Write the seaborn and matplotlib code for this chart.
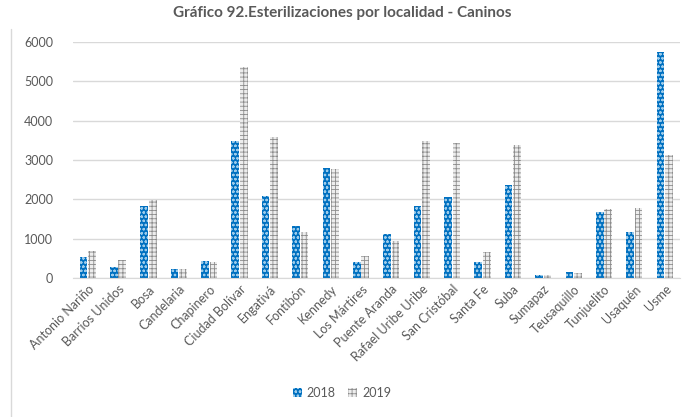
import matplotlib
matplotlib.use("Agg")
import matplotlib.pyplot as plt
from matplotlib.lines import Line2D
import pandas as pd
import seaborn as sns

localidades = [
    "Antonio Nariño", "Barrios Unidos", "Bosa", "Candelaria", "Chapinero",
    "Ciudad Bolívar", "Engativá", "Fontibón", "Kennedy", "Los Mártires",
    "Puente Aranda", "Rafael Uribe Uribe", "San Cristóbal", "Santa Fe", "Suba",
    "Sumapaz", "Teusaquillo", "Tunjuelito", "Usaquén", "Usme",
]
v2018 = [534, 271, 1822, 237, 441, 3492, 2076, 1331, 2797, 407,
         1127, 1822, 2051, 407, 2356, 85, 144, 1678, 1169, 5746]
v2019 = [695, 449, 1991, 230, 407, 5356, 3576, 1169, 2771, 551,
         949, 3492, 3424, 653, 3373, 68, 135, 1763, 1780, 3119]
years = ["2018", "2019"]

df = pd.DataFrame({
    "localidad": localidades * 2,
    "anio": [years[0]] * len(localidades) + [years[1]] * len(localidades),
    "valor": v2018 + v2019,
})

sns.set_style("white")
plt.rcParams["font.family"] = ["Lato", "DejaVu Sans"]
plt.rcParams["hatch.linewidth"] = 0.6

fig = plt.figure(figsize=(6.84, 4.17), dpi=100)
ax = fig.add_axes([0.106, 0.333, 0.888, 0.566])

ax = sns.barplot(
    data=df, x="localidad", y="valor", hue="anio", hue_order=years,
    palette=["#0070C0", "#C8C8C8"], width=0.56, gap=0.1, ax=ax,
)

styles = [("#0070C0", "#9CCBEA", "oooo"), ("#EDEDED", "#8C8C8C", "++++")]
for cont, (fc, hc, hatch) in zip(ax.containers, styles):
    for bar in cont.patches:
        bar.set_facecolor(fc)
        bar.set_edgecolor(hc)
        bar.set_hatch(hatch)
        bar.set_linewidth(0)

ax.set_ylim(0, 6000)
ax.set_yticks(range(0, 6001, 1000))
ax.set_xlim(-0.5, len(localidades) - 0.5)
ax.yaxis.grid(True, color="#D9D9D9", linewidth=1)
ax.set_axisbelow(True)
for s in ax.spines.values():
    s.set_visible(False)
ax.spines["bottom"].set_visible(True)
ax.spines["bottom"].set_color("#D9D9D9")
ax.set_xlabel("")
ax.set_ylabel("")
ax.tick_params(axis="both", length=0, colors="#595959", labelsize=9)
ax.tick_params(axis="y", pad=14)
plt.setp(ax.get_xticklabels(), rotation=45, ha="right", rotation_mode="anchor")

handles = [c.patches[0] for c in ax.containers]
ax.get_legend().remove()
fig.legend(handles, years, loc="center", bbox_to_anchor=(0.5, 0.058), ncol=2,
           frameon=False, fontsize=9, handlelength=0.7, handleheight=0.7,
           handletextpad=0.4, columnspacing=1.0, labelcolor="#595959")

fig.suptitle("Gráfico 92.Esterilizaciones por localidad - Caninos", x=0.5, y=0.985,
             fontsize=11, fontweight="bold", color="#595959")
fig.add_artist(Line2D([0.016, 0.016], [0.0, 0.93], color="#D9D9D9", linewidth=1,
                      transform=fig.transFigure))

fig.savefig("out.png", dpi=100)
